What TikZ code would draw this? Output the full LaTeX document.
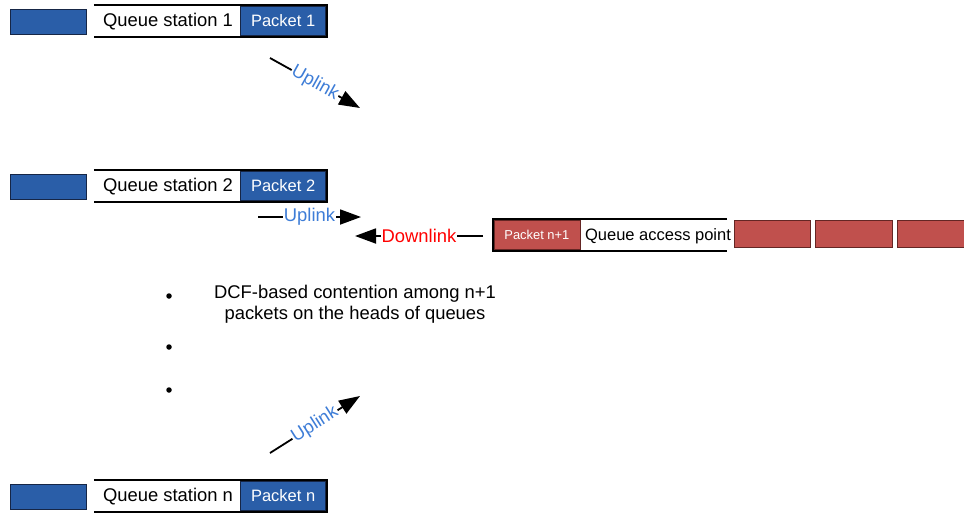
\documentclass[tikz,border=0pt]{standalone}
\usepackage{fontspec}
\setmainfont{Liberation Sans}
\usetikzlibrary{arrows.meta}

\definecolor{pktblue}{RGB}{42,94,168}
\definecolor{pktblueedge}{RGB}{22,38,70}
\definecolor{pktred}{RGB}{192,80,77}
\definecolor{pktrededge}{RGB}{100,38,36}
\definecolor{uplinkblue}{RGB}{62,125,215}
\definecolor{downred}{RGB}{255,0,0}

\tikzset{
  bigtext/.style={font=\fontsize{18.4}{21}\selectfont, inner sep=0pt},
  midtext/.style={font=\fontsize{16.5}{19}\selectfont, inner sep=0pt},
  queueframe/.style={minimum width=233pt, minimum height=32pt, inner sep=0pt},
  qline/.style={line width=2pt, black},
  bluebox/.style={draw=pktblueedge, fill=pktblue, line width=0.8pt, inner sep=0pt,
    minimum height=25pt},
  bluepkt/.style={bluebox, minimum width=85pt, minimum height=29pt, text=white,
    font=\fontsize{16.5}{19}\selectfont},
  redbox/.style={draw=pktrededge, fill=pktred, line width=0.8pt, inner sep=0pt,
    minimum height=27pt},
  redpkt/.style={redbox, minimum width=86pt, minimum height=29pt, text=white,
    font=\fontsize{12.9}{15}\selectfont},
  arr/.style={line width=1.8pt, -{Triangle[length=21pt, width=15pt]}},
  uplbl/.style={fill=white, inner sep=1pt, text=uplinkblue,
    font=\fontsize{18.4}{21}\selectfont},
  downlbl/.style={fill=white, inner sep=1pt, text=downred,
    font=\fontsize{18.4}{21}\selectfont},
  bullet/.style={circle, fill=black, inner sep=0pt, minimum size=5.5pt},
}

\begin{document}
\begin{tikzpicture}[x=1pt, y=-1pt]
  \clip (0,0) rectangle (964,514);
  \fill[white] (0,0) rectangle (964,514);

  % ---- station queues: waiting packet, queue body, head-of-line packet ----
  \foreach \id/\yc/\num in {1/21/1, 2/186/2, n/496/n} {
    \node[bluebox, minimum width=76pt] (wait\id) at (48,\yc+0.5) {};
    \node[queueframe] (q\id) at (210.5,\yc) {};
    \draw[qline] (q\id.north west) -- (q\id.north east)
                 -- (q\id.south east) -- (q\id.south west);
    \node[bluepkt, anchor=east] (p\id) at (326,\yc) {\raisebox{-1.5pt}{Packet \num}};
    \node[bigtext] (qs\id) at (168,\yc+0.5) {Queue station \num};
  }

  % ---- access point queue ----
  \node[queueframe, minimum width=234pt, minimum height=32pt] (qap) at (610,235) {};
  \draw[qline] (qap.north east) -- (qap.north west)
               -- (qap.south west) -- (qap.south east);
  \node[redpkt, anchor=west] (pap) at (493.5,235) {Packet n+1};
  \node[midtext] (qapt) at (658,236) {Queue access point};
  \node[redbox, minimum width=76pt] (r1) at (772.5,234) {};
  \node[redbox, minimum width=77pt] (r2) at (853.5,234) {};
  \node[redbox, minimum width=78pt] (r3) at (936,234) {};

  % ---- links ----
  \coordinate (u1s) at (270,58);
  \coordinate (u1e) at (360,108);
  \draw[arr] (u1s) -- node[uplbl, sloped] {Uplink} (u1e);

  \coordinate (u2s) at (258,217);
  \coordinate (u2e) at (361,217);
  \draw[arr] (u2s) -- node[uplbl] {Uplink} (u2e);

  \coordinate (dls) at (483,236);
  \coordinate (dle) at (355,236);
  \draw[arr] (dls) -- node[downlbl] {Downlink} (dle);

  \coordinate (uns) at (270,453);
  \coordinate (une) at (360,396);
  \draw[arr] (uns) -- node[uplbl, sloped] {Uplink} (une);

  % ---- dots and contention note ----
  \node[bullet] (b1) at (169,296) {};
  \node[bullet] (b2) at (169,347) {};
  \node[bullet] (b3) at (169,390) {};
  \node[bigtext, align=center] (note) at (355,304)
    {DCF-based contention among n+1\\packets on the heads of queues};
\end{tikzpicture}
\end{document}
